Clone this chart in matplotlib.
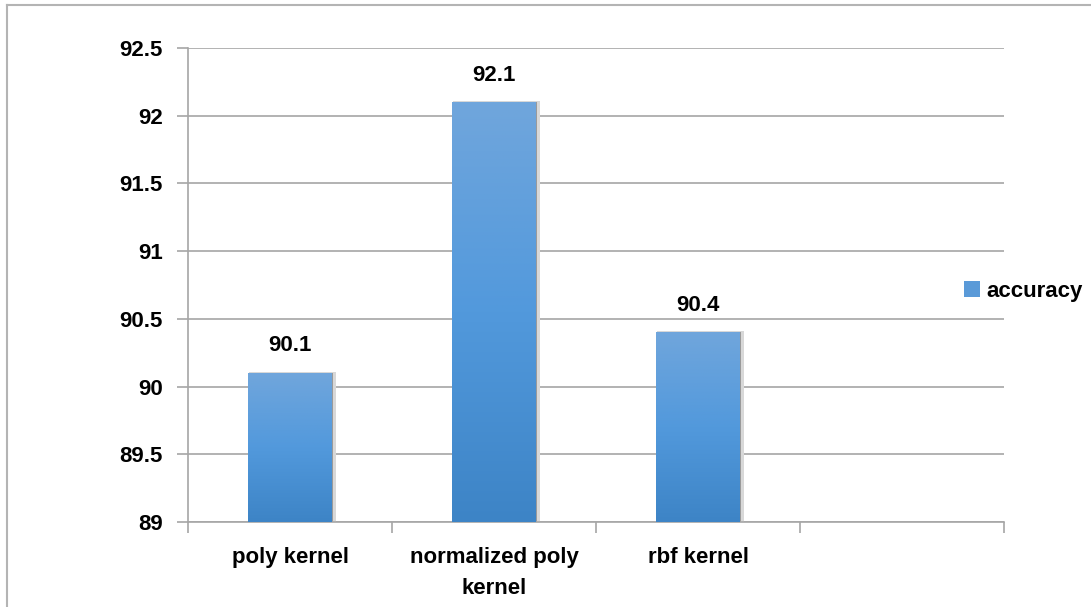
import numpy as np
import matplotlib.pyplot as plt
from matplotlib.patches import Rectangle, Patch
from matplotlib.lines import Line2D
from matplotlib.colors import LinearSegmentedColormap

# data
categories = ['poly kernel', 'normalized poly\nkernel', 'rbf kernel', '']
accuracy = [90.1, 92.1, 90.4, None]
y_ticks = [89, 89.5, 90, 90.5, 91, 91.5, 92, 92.5]
y_tick_labels = ['89', '89.5', '90', '90.5', '91', '91.5', '92', '92.5']

plt.rcParams['font.family'] = 'Liberation Sans'
plt.rcParams['font.weight'] = 'bold'
fs = 16

fig = plt.figure(figsize=(10.91, 6.07), dpi=100)
ax = fig.add_axes([188 / 1091, 1 - 522 / 607, 816 / 1091, 474 / 607])

grid_col = '#a6a6a6'
width = 0.41
gradient = np.linspace(0, 1, 256).reshape(-1, 1)
cmap = LinearSegmentedColormap.from_list('bar', ['#3d84c6', '#5299dc', '#70a6dc'])

for i, v in enumerate(accuracy):
    if v is None:
        continue
    # soft shadow
    ax.add_patch(Rectangle((i - width / 2 + 0.006, 89), width + 0.014, v - 89 + 0.01,
                           color='#d8d8d8', zorder=2, lw=0))
    ax.add_patch(Rectangle((i - width / 2, 89), width + 0.008, v - 89,
                           color='#9a9a9a', zorder=2, lw=0))
    ax.imshow(gradient, cmap=cmap, origin='lower', aspect='auto',
              extent=[i - width / 2, i + width / 2, 89, v], zorder=3)
    ax.annotate(f'{v}', (i, v), xytext=(0, 12), textcoords='offset points',
                ha='center', va='bottom', fontsize=fs, fontweight='bold')

ax.set_xlim(-0.5, 3.5)
ax.set_ylim(89, 92.5)
ax.set_yticks(y_ticks)
ax.set_yticklabels(y_tick_labels, fontsize=fs, fontweight='bold')
ax.set_xticks(range(len(categories)))
ax.set_xticklabels(categories, fontsize=fs, fontweight='bold', linespacing=1.6)
ax.set_xticks(np.arange(-0.5, 3.6, 1), minor=True)
ax.tick_params(axis='x', which='major', length=0, pad=18)
ax.tick_params(axis='x', which='minor', length=8, width=1.2, color=grid_col, direction='out')
ax.tick_params(axis='y', length=8, width=1.2, color=grid_col, pad=10)

ax.grid(axis='y', color=grid_col, lw=1.2, zorder=1)
ax.set_axisbelow(True)
for s in ['top', 'right']:
    ax.spines[s].set_visible(False)
for s in ['left', 'bottom']:
    ax.spines[s].set_color(grid_col)
    ax.spines[s].set_linewidth(1.2)

handle = Patch(facecolor='#5a9ad8', edgecolor='none')
fig.legend([handle], ['accuracy'], loc='center left', bbox_to_anchor=(953 / 1091, 1 - 291 / 607),
           frameon=False, prop={'size': fs, 'weight': 'bold'}, handlelength=0.7, handleheight=0.7,
           handletextpad=0.3, borderpad=0)

# outer chart border
fig.add_artist(Line2D([7 / 1091, 7 / 1091], [0, 1 - 5 / 607], transform=fig.transFigure, color='#b4b4b4', lw=1.5))
fig.add_artist(Line2D([7 / 1091, 1], [1 - 5 / 607, 1 - 5 / 607], transform=fig.transFigure, color='#b4b4b4', lw=1.5))

fig.savefig('out.png', dpi=100)
